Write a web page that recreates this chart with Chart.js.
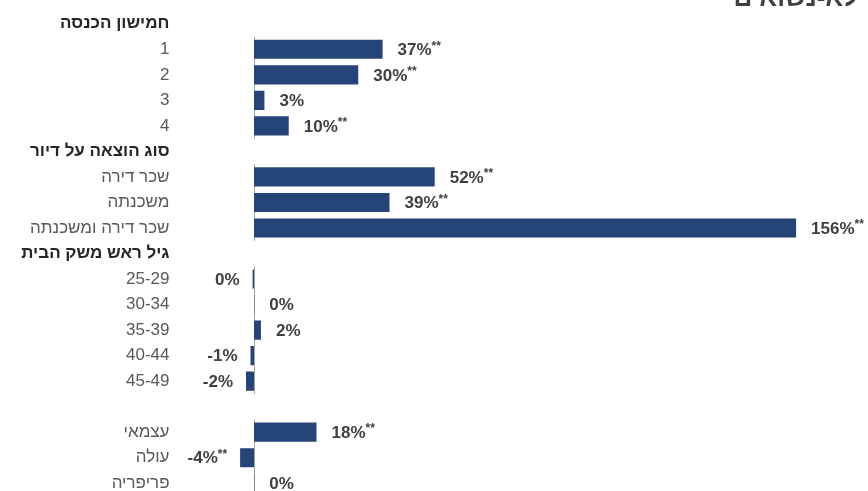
<!DOCTYPE html>
<html><head><meta charset="utf-8">
<script src="https://cdn.jsdelivr.net/npm/chart.js@4.4.0/dist/chart.umd.min.js"></script>
<style>
html,body{margin:0;padding:0;overflow:hidden;background:#fff;}
#wrap{position:relative;width:868px;height:497px;}
#title{position:absolute;right:10px;top:-16px;font:bold 26px "Liberation Sans",Arial,sans-serif;line-height:26px;color:#404040;white-space:nowrap;}
</style></head><body>
<div id="wrap"><canvas id="c" width="868" height="497"></canvas><div id="title" dir="rtl">לא-נשואים</div></div>
<script>
const categories = ['חמישון הכנסה','1','2','3','4','סוג הוצאה על דיור','שכר דירה','משכנתה','שכר דירה ומשכנתה','גיל ראש משק הבית','25-29','30-34','35-39','40-44','45-49','','עצמאי','עולה','פריפריה'];
const isHeader = [true,false,false,false,false,true,false,false,false,true,false,false,false,false,false,false,false,false,false];
const values = [null,37,30,3,10,null,52,39,156,null,-0.4,0.1,2,-1,-2.3,null,18,-4,0.1];
const significant = [false,true,true,false,true,false,true,true,true,false,false,false,false,false,false,false,true,true,false];
const groups = [[1,4],[6,8],[10,14],[16,18]];

const FONT = '"Liberation Sans", Arial, sans-serif';
Chart.defaults.font.family = FONT;

const axisSegments = {
  id: 'axisSegments',
  beforeDatasetsDraw(chart) {
    const {ctx, scales:{x,y}} = chart;
    const x0 = Math.round(x.getPixelForValue(0)) + 0.5;
    const band = (y.getPixelForValue(1) - y.getPixelForValue(0));
    ctx.save();
    ctx.strokeStyle = '#a6a6a6';
    ctx.lineWidth = 1;
    groups.forEach(g => {
      ctx.beginPath();
      ctx.moveTo(x0, y.getPixelForValue(g[0]) - band/2);
      ctx.lineTo(x0, y.getPixelForValue(g[1]) + band/2);
      ctx.stroke();
    });
    ctx.restore();
  }
};

const valueLabels = {
  id: 'valueLabels',
  afterDatasetsDraw(chart) {
    const {ctx} = chart;
    const meta = chart.getDatasetMeta(0);
    ctx.save();
    ctx.fillStyle = '#404040';
    ctx.textBaseline = 'middle';
    ctx.textAlign = 'left';
    meta.data.forEach((bar, i) => {
      const v = values[i];
      if (v === null || v === undefined) return;
      const r = Math.round(v);
      const txt = (r === 0 ? '0' : String(r)) + '%';
      const star = significant[i] ? '**' : '';
      ctx.font = 'bold 17px ' + FONT;
      const w1 = ctx.measureText(txt).width;
      ctx.font = 'bold 12px ' + FONT;
      const w2 = star ? ctx.measureText(star).width : 0;
      const total = w1 + w2;
      const xs = v >= 0 ? bar.x + 15 : bar.x - 13 - total;
      ctx.font = 'bold 17px ' + FONT;
      ctx.fillText(txt, xs, bar.y + 1);
      if (star) {
        ctx.font = 'bold 12px ' + FONT;
        ctx.fillText(star, xs + w1, bar.y - 3);
      }
    });
    ctx.restore();
  }
};

new Chart(document.getElementById('c'), {
  type: 'bar',
  data: {
    labels: categories,
    datasets: [{
      data: values,
      backgroundColor: '#254579',
      borderWidth: 0,
      categoryPercentage: 1,
      barPercentage: 0.75
    }]
  },
  options: {
    indexAxis: 'y',
    responsive: false,
    animation: false,
    layout: {padding: {top: 11, bottom: 1, left: 0, right: 58}},
    plugins: {legend: {display: false}, tooltip: {enabled: false}},
    scales: {
      x: {display: false, min: -20, max: 160},
      y: {
        grid: {display: false, drawTicks: true, tickLength: 15},
        border: {display: false},
        afterFit(s) { s.width = 184.5; },
        ticks: {
          autoSkip: false,
          padding: 0,
          font: (c) => ({family: FONT, size: 17, lineHeight: 0.1, weight: isHeader[c.index] ? 'bold' : 'normal'}),
          color: (c) => isHeader[c.index] ? '#262626' : '#595959'
        }
      }
    }
  },
  plugins: [axisSegments, valueLabels]
});
</script>
</body></html>
